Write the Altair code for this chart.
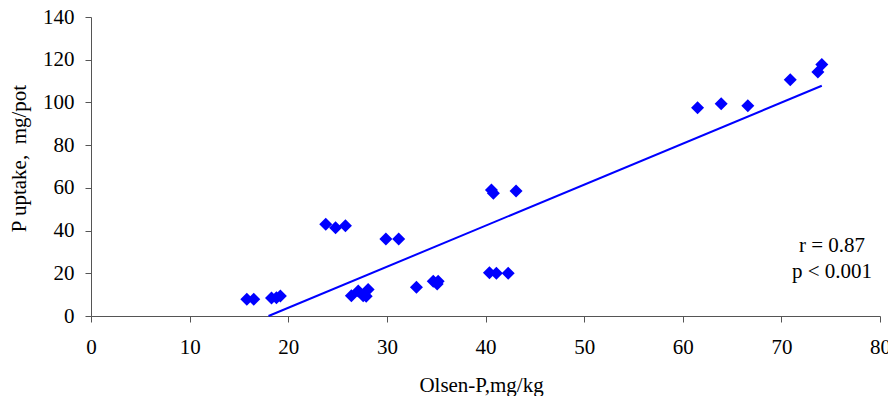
import altair as alt
import pandas as pd

# Scatter data
olsen_p = [15.8, 16.5, 18.3, 18.8, 19.2,
           23.8, 24.8, 25.8,
           26.4, 27.1, 27.6, 28.1, 27.9,
           29.9, 31.2,
           33.0, 34.7, 35.1, 35.2,
           40.4, 41.1, 42.3,
           40.6, 40.8, 43.1,
           61.5, 63.9, 66.6, 70.9, 73.7, 74.1]
p_uptake = [7.8, 7.8, 8.4, 8.6, 9.4,
            43.0, 41.3, 42.3,
            9.5, 11.7, 9.5, 12.4, 9.2,
            36.0, 36.0,
            13.5, 16.3, 15.0, 16.3,
            20.2, 20.0, 20.0,
            59.0, 57.5, 58.5,
            97.5, 99.4, 98.5, 110.6, 114.3, 117.8]

# Trend line endpoints
trend_x = [18.0, 74.1]
trend_y = [0.0, 107.8]

x_ticks = [0, 10, 20, 30, 40, 50, 60, 70, 80]
y_ticks = [0, 20, 40, 60, 80, 100, 120, 140]

annotations = ["r = 0.87", "p < 0.001"]

FONT = "Liberation Serif"
BLUE = "#0000FF"
FS = 21

pts = pd.DataFrame({"x": olsen_p, "y": p_uptake})
trend = pd.DataFrame({"x": trend_x, "y": trend_y})

xscale = alt.Scale(domain=[0, 80], nice=False, zero=True)
yscale = alt.Scale(domain=[0, 140], nice=False, zero=True)

xaxis = alt.Axis(values=x_ticks, title="Olsen-P,mg/kg",
                 labelPadding=14, titlePadding=17, titleX=390)
yaxis = alt.Axis(values=y_ticks, title="P uptake,\u00a0 mg/pot",
                 labelPadding=11, titlePadding=13, titleY=141)

line = alt.Chart(trend).mark_line(color=BLUE, strokeWidth=2).encode(
    x=alt.X("x:Q", scale=xscale, axis=xaxis),
    y=alt.Y("y:Q", scale=yscale, axis=yaxis),
)

scatter = alt.Chart(pts).mark_point(
    shape="diamond", filled=True, size=169, color=BLUE, opacity=1
).encode(
    x=alt.X("x:Q", scale=xscale, axis=xaxis),
    y=alt.Y("y:Q", scale=yscale, axis=yaxis),
)

text_r = alt.Chart(pd.DataFrame({"t": [annotations[0]]})).mark_text(
    font=FONT, fontSize=FS, color="#000", align="center", baseline="alphabetic"
).encode(text="t:N", x=alt.value(741), y=alt.value(235))

text_p = alt.Chart(pd.DataFrame({"t": [annotations[1]]})).mark_text(
    font=FONT, fontSize=FS, color="#000", align="center", baseline="alphabetic"
).encode(text="t:N", x=alt.value(741), y=alt.value(261))

chart = alt.layer(line, scatter, text_r, text_p).properties(
    width=789, height=299,
    autosize=alt.AutoSizeParams(type="none"),
    padding={"left": 83, "top": 9, "right": 8, "bottom": 80},
).configure_view(stroke=None).configure_axis(
    grid=False,
    labelFont=FONT, labelFontSize=FS, labelColor="#000",
    titleFont=FONT, titleFontSize=FS, titleFontWeight="normal", titleColor="#000",
    domainColor="#555", tickColor="#555", tickSize=6,
    labelFlush=False,
)

chart.save("out.html", embed_options={"renderer": "svg", "actions": False})
